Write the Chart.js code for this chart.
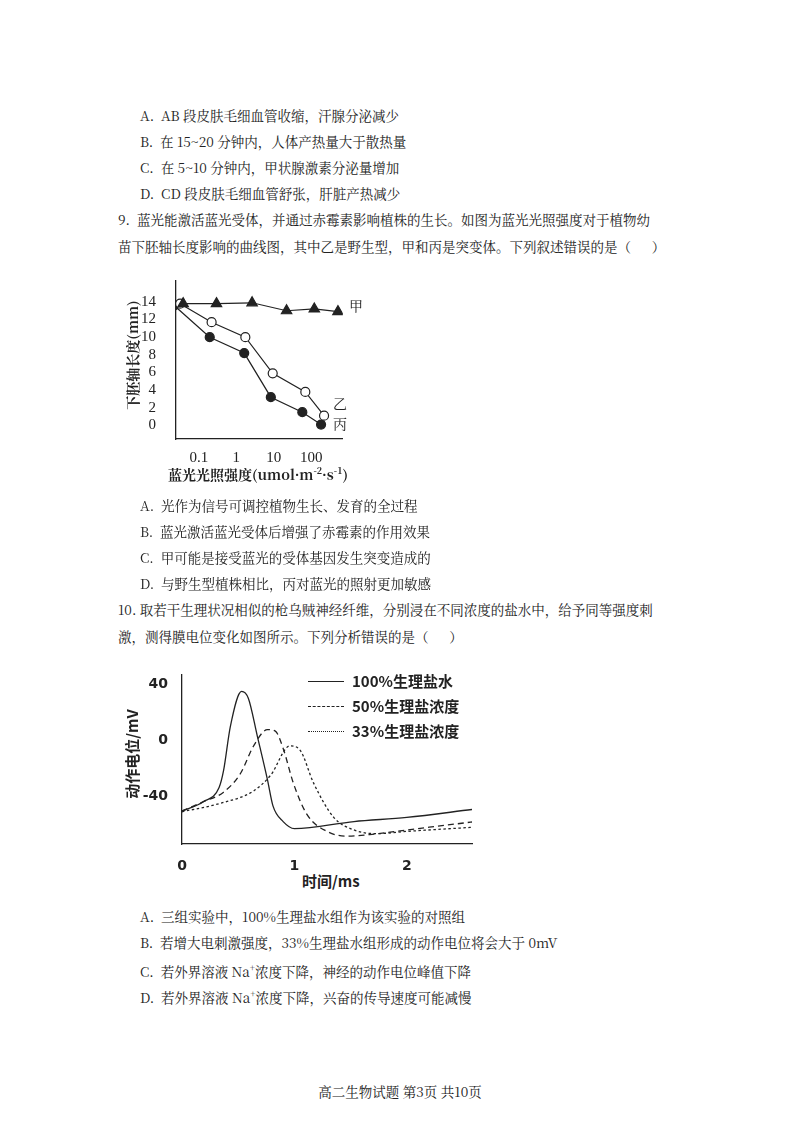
<!DOCTYPE html>
<html><head><meta charset="utf-8">
<script src="https://cdn.jsdelivr.net/npm/chart.js@4"></script>
<style>
body{margin:0;width:800px;height:1130px;background:#fff;position:relative;font-family:"Noto Serif CJK SC","Noto Sans CJK SC",serif;color:#222;}
.t{position:absolute;font-size:13.5px;white-space:nowrap;line-height:16px;}
.c{position:absolute;}
.lg{position:absolute;font-size:15px;font-weight:bold;white-space:nowrap;font-family:"Noto Sans CJK SC";}
.ln{position:absolute;width:36px;border-top:1.3px #222;}
</style></head><body>
<div class="t" style="left:140px;top:107px">A.&nbsp;&nbsp;AB 段皮肤毛细血管收缩，汗腺分泌减少</div>
<div class="t" style="left:140px;top:133px">B.&nbsp;&nbsp;在 15~20 分钟内，人体产热量大于散热量</div>
<div class="t" style="left:140px;top:159px">C.&nbsp;&nbsp;在 5~10 分钟内，甲状腺激素分泌量增加</div>
<div class="t" style="left:140px;top:185px">D.&nbsp;&nbsp;CD 段皮肤毛细血管舒张，肝脏产热减少</div>
<div class="t" style="left:118px;top:211px">9.&nbsp;&nbsp;蓝光能激活蓝光受体，并通过赤霉素影响植株的生长。如图为蓝光光照强度对于植物幼</div>
<div class="t" style="left:118px;top:238px">苗下胚轴长度影响的曲线图，其中乙是野生型，甲和丙是突变体。下列叙述错误的是（&nbsp;&nbsp;&nbsp;&nbsp;&nbsp;&nbsp;）</div>
<div class="c" style="left:100px;top:260px;width:250px;height:210px"><canvas id="c1"></canvas></div>
<div class="t" style="left:62px;top:347px;transform:rotate(-90deg);font-size:14px;font-weight:bold;width:140px;text-align:center">下胚轴长度(mm)</div>
<div class="t" style="left:168px;top:463px;font-size:14px;font-weight:bold">蓝光光照强度(umol·m<sup style="font-size:9px">-2</sup>·s<sup style="font-size:9px">-1</sup>)</div>
<div class="t" style="left:349px;top:297px;font-size:14px">甲</div>
<div class="t" style="left:333px;top:395px;font-size:14px">乙</div>
<div class="t" style="left:333px;top:415px;font-size:14px">丙</div>
<div class="t" style="left:140px;top:497px">A.&nbsp;&nbsp;光作为信号可调控植物生长、发育的全过程</div>
<div class="t" style="left:140px;top:523px">B.&nbsp;&nbsp;蓝光激活蓝光受体后增强了赤霉素的作用效果</div>
<div class="t" style="left:140px;top:549px">C.&nbsp;&nbsp;甲可能是接受蓝光的受体基因发生突变造成的</div>
<div class="t" style="left:140px;top:575px">D.&nbsp;&nbsp;与野生型植株相比，丙对蓝光的照射更加敏感</div>
<div class="t" style="left:118px;top:601px">10.&nbsp;取若干生理状况相似的枪乌贼神经纤维，分别浸在不同浓度的盐水中，给予同等强度刺</div>
<div class="t" style="left:118px;top:628px">激，测得膜电位变化如图所示。下列分析错误的是（&nbsp;&nbsp;&nbsp;&nbsp;&nbsp;&nbsp;）</div>
<div class="c" style="left:120px;top:660px;width:360px;height:210px"><canvas id="c2"></canvas></div>
<div class="t" style="left:72px;top:746px;transform:rotate(-90deg);font-size:15px;font-weight:bold;width:120px;text-align:center;font-family:'Noto Sans CJK SC'">动作电位/mV</div>
<div class="t" style="left:302px;top:873px;font-size:15px;font-weight:bold;font-family:'Noto Sans CJK SC'">时间/ms</div>
<div class="ln" style="left:308px;top:681px;border-top-style:solid"></div>
<div class="ln" style="left:308px;top:706px;border-top-style:dashed"></div>
<div class="ln" style="left:308px;top:731px;border-top-style:dotted"></div>
<div class="lg" style="left:352px;top:670px">100%生理盐水</div>
<div class="lg" style="left:352px;top:695px">50%生理盐浓度</div>
<div class="lg" style="left:352px;top:720px">33%生理盐浓度</div>
<div class="t" style="left:140px;top:908px">A.&nbsp;&nbsp;三组实验中，100%生理盐水组作为该实验的对照组</div>
<div class="t" style="left:140px;top:934px">B.&nbsp;&nbsp;若增大电刺激强度，33%生理盐水组形成的动作电位将会大于 0mV</div>
<div class="t" style="left:140px;top:960px">C.&nbsp;&nbsp;若外界溶液 Na<sup style="font-size:9px">+</sup>浓度下降，神经的动作电位峰值下降</div>
<div class="t" style="left:140px;top:986px">D.&nbsp;&nbsp;若外界溶液 Na<sup style="font-size:9px">+</sup>浓度下降，兴奋的传导速度可能减慢</div>
<div class="t" style="left:0;width:800px;text-align:center;top:1083px">高二生物试题 第3页 共10页</div>
<script>
// Chart 1 (x = log10 of light intensity)
const jiaX=[-1.42,-0.53,0.42,1.34,2.08,2.71], jiaY=[13.8,13.8,13.9,13.0,13.2,12.9];
const yiX=[-1.5,-0.66,0.24,0.97,1.84,2.34], yiY=[13.8,11.7,10.0,5.9,3.8,1.1];
const bingX=[-1.66,-0.71,0.21,0.92,1.76,2.26], bingY=[13.6,10.0,8.2,3.2,1.5,0.1];
const xTicks1=[-1,0,1,2], xLabels1=["0.1","1","10","100"];
const yTicks1=[0,2,4,6,8,10,12,14];
// Chart 2
const tSolid=[0,0.19,0.33,0.37,0.43,0.53,0.59,0.67,0.76,0.81,0.9,1.0,1.53,2.0,2.58];
const vSolid=[-50.5,-43.8,-33.7,-21.5,9.8,34.9,30,3,-28,-47,-58,-63,-58,-55,-49.4];
const tDash=[0,0.19,0.37,0.52,0.64,0.76,0.83,0.9,0.99,1.11,1.29,1.47,1.67,2.0,2.58];
const vDash=[-50.5,-43.8,-37,-23.7,-3.6,7.6,6.5,-5.8,-30.4,-52.7,-65,-68.4,-67.3,-64,-58.3];
const tDot=[0,0.34,0.64,0.79,0.96,1.05,1.17,1.35,1.53,1.73,2.0,2.58];
const vDot=[-51,-45,-36,-24.8,-4,-7,-30.4,-55,-64,-66.6,-65,-62.1];
const yTicks2=[-40,0,40], xTicks2=[0,1,2];
const zip=(a,b)=>a.map((x,i)=>({x,y:b[i]}));
const K='#222';
function ds(d,ps,bg,r){return {data:d,borderColor:K,borderWidth:1.2,pointStyle:ps,pointRadius:r,pointBackgroundColor:bg,pointBorderColor:K,pointBorderWidth:1.2,showLine:true,tension:0};}
new Chart(document.getElementById('c1'),{type:'scatter',data:{datasets:[
 ds(zip(jiaX,jiaY),'triangle',K,6),ds(zip(yiX,yiY),'circle','#fff',4.5),ds(zip(bingX,bingY),'circle',K,4.5)]},
 options:{responsive:true,maintainAspectRatio:false,animation:false,layout:{padding:{top:5,right:5}},
 plugins:{legend:{display:false},tooltip:{enabled:false}},
 scales:{x:{type:'linear',min:-1.61,max:2.84,grid:{display:false},border:{display:true,color:K,width:1.3},
   afterBuildTicks:s=>{s.ticks=xTicks1.map(v=>({value:v}));},afterFit:s=>{s.height=31;},
   ticks:{color:K,padding:2,font:{family:'Liberation Serif',size:15},callback:(v)=>xLabels1[xTicks1.indexOf(v)]}},
  y:{min:-1.54,max:16.37,grid:{display:false},border:{display:true,color:K,width:1.3},
   afterBuildTicks:s=>{s.ticks=yTicks1.map(v=>({value:v}));},afterFit:s=>{s.width=76;},
   ticks:{color:K,padding:12,font:{family:'Liberation Serif',size:15}}}}}});
function ds2(t,v,dash){return {data:zip(t,v),borderColor:K,borderWidth:1.3,borderDash:dash,pointRadius:0,showLine:true,tension:0.4,cubicInterpolationMode:'monotone'};}
new Chart(document.getElementById('c2'),{type:'scatter',data:{datasets:[
 ds2(tSolid,vSolid,[]),ds2(tDash,vDash,[6,4]),ds2(tDot,vDot,[2.5,2.5])]},
 options:{responsive:true,maintainAspectRatio:false,animation:false,layout:{padding:{top:8,right:8}},
 plugins:{legend:{display:false},tooltip:{enabled:false}},
 scales:{x:{type:'linear',min:0,max:2.58,grid:{display:false},border:{display:true,color:K,width:1.3},
   afterBuildTicks:s=>{s.ticks=xTicks2.map(v=>({value:v}));},afterFit:s=>{s.height=26;},
   ticks:{color:K,padding:6,font:{family:'DejaVu Sans',size:14,weight:'bold'}}},
  y:{min:-74,max:47,grid:{display:false},border:{display:true,color:K,width:1.3},
   afterBuildTicks:s=>{s.ticks=yTicks2.map(v=>({value:v}));},afterFit:s=>{s.width=62;},
   ticks:{color:K,padding:6,font:{family:'DejaVu Sans',size:14,weight:'bold'}}}}}});
</script>
</body></html>
